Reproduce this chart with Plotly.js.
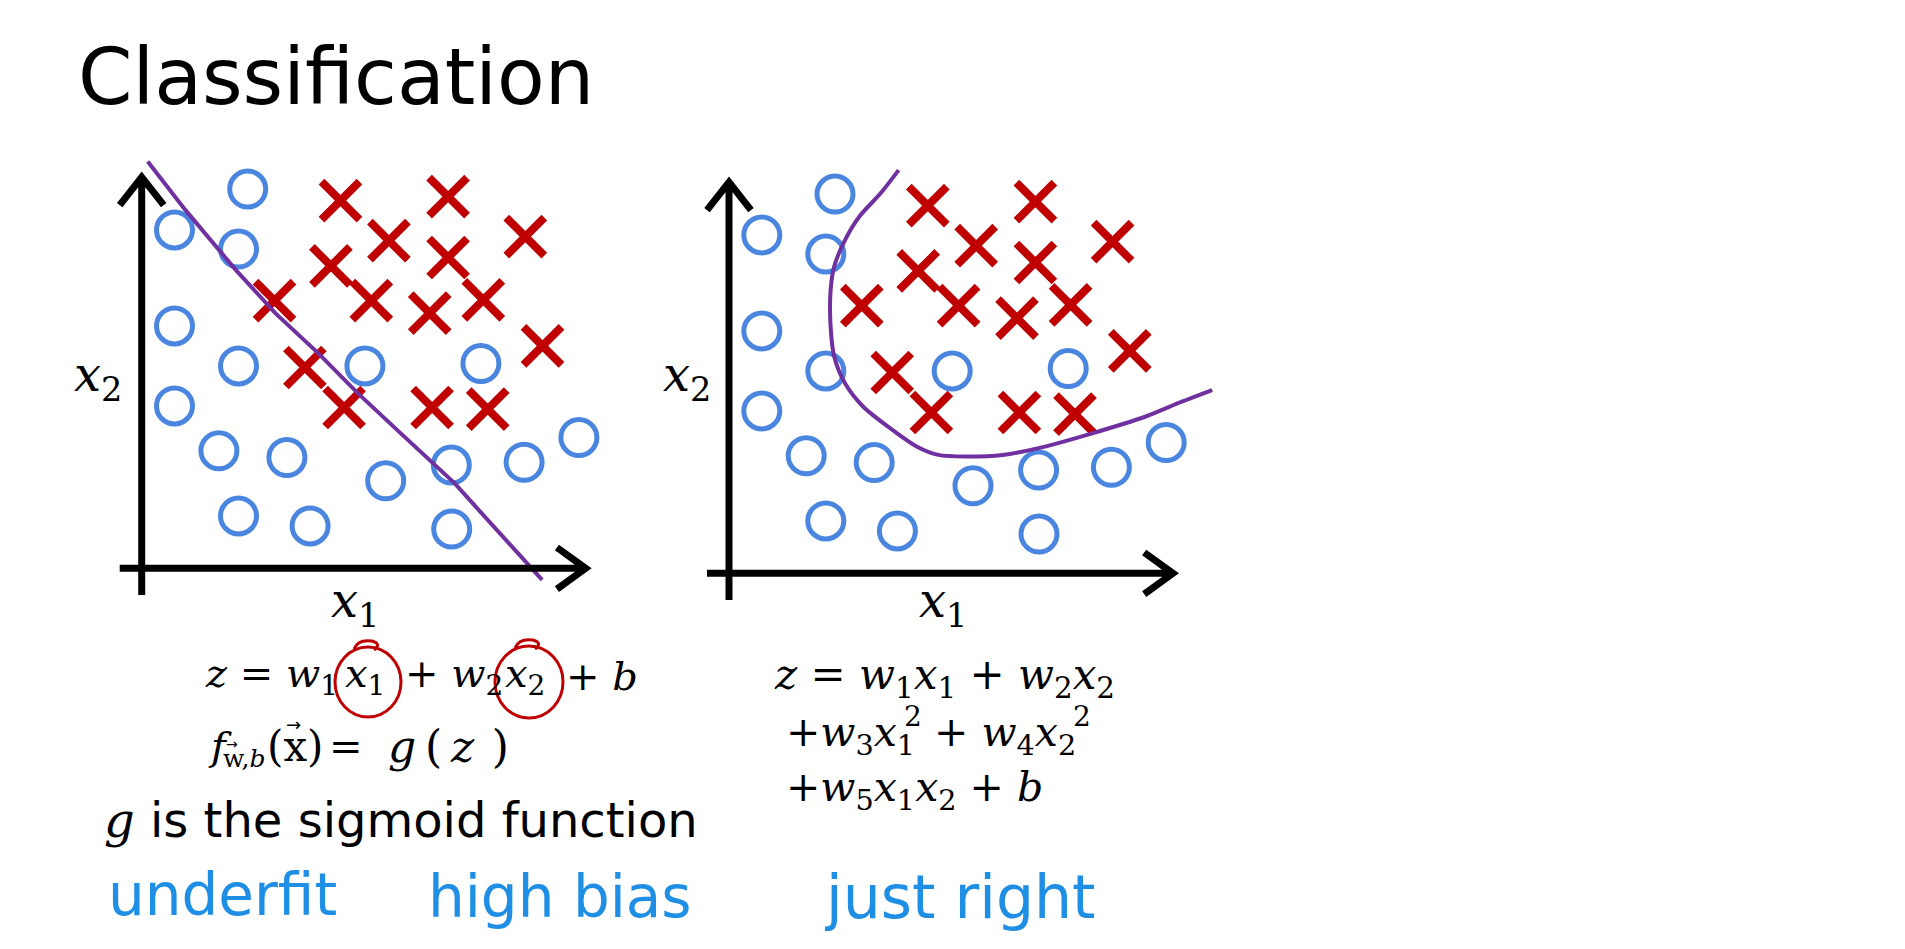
<!DOCTYPE html>
<html>
<head>
<meta charset="utf-8">
<script src="https://cdn.plot.ly/plotly-3.0.1.min.js"></script>
<style>
html,body{margin:0;padding:0;background:#fff;}
#chart{width:1905px;height:949px;}
</style>
</head>
<body>
<div id="chart"></div>
<script>
// ---------- data (same training set in both panels) ----------
const circleX = [2.65, 0.82, 2.42, 0.82, 2.42, 0.82, 5.58, 8.48, 1.93, 3.63, 6.10, 7.74, 9.56, 10.93, 2.42, 4.21, 7.75];
const circleY = [9.48, 8.46, 7.98, 6.06, 5.06, 4.06, 5.06, 5.12, 2.94, 2.77, 2.19, 2.58, 2.65, 3.27, 1.31, 1.06, 0.98];
const crossX  = [4.97, 7.66, 6.18, 7.66, 9.59, 4.73, 3.32, 5.74, 7.20, 8.54, 10.02, 4.08, 5.06, 7.26, 8.65];
const crossY  = [9.19, 9.29, 8.19, 7.77, 8.29, 7.56, 6.69, 6.69, 6.38, 6.71, 5.56, 5.02, 4.02, 4.02, 3.98];

// decision boundary: linear (underfit)
const lineX = [0.15, 1.09, 2.35, 3.34, 4.41, 5.40, 6.47, 7.19, 7.82, 8.35, 9.25, 10.01];
const lineY = [10.17, 8.96, 7.46, 6.38, 5.38, 4.38, 3.38, 2.71, 2.13, 1.54, 0.54, -0.29];
// decision boundary: quadratic (just right)
const curveX = [4.24, 3.79, 3.26, 2.90, 2.63, 2.54, 2.54, 2.63, 2.90, 3.35, 3.97, 4.69, 5.23, 5.94, 6.84, 7.74, 9.08, 10.42, 11.32, 12.08];
const curveY = [10.08, 9.50, 8.92, 8.33, 7.67, 7.08, 6.17, 5.42, 4.75, 4.17, 3.67, 3.17, 2.96, 2.92, 2.96, 3.13, 3.50, 3.92, 4.29, 4.58];

// ---------- styles ----------
const BLUE = '#4a86e0', RED = '#c00000', PURPLE = '#7030a0', HAND = '#1e8fe4';
const W = 1905, H = 949;
const px = v => v / W, py = v => 1 - v / H;

function panelTraces(xa, ya, bx, by, smooth) {
  return [
    {x: circleX, y: circleY, xaxis: xa, yaxis: ya, type: 'scatter', mode: 'markers',
     marker: {symbol: 'circle-open', size: 36, color: BLUE, line: {width: 5, color: BLUE}},
     hoverinfo: 'skip', cliponaxis: false},
    {x: crossX, y: crossY, xaxis: xa, yaxis: ya, type: 'scatter', mode: 'markers',
     marker: {symbol: 'x-thin-open', size: 38, color: RED, line: {width: 8, color: RED}},
     hoverinfo: 'skip', cliponaxis: false},
    {x: bx, y: by, xaxis: xa, yaxis: ya, type: 'scatter', mode: 'lines',
     line: {color: PURPLE, width: 4, shape: smooth ? 'spline' : 'linear', smoothing: 0.8},
     hoverinfo: 'skip', cliponaxis: false}
  ];
}

const data = [].concat(
  panelTraces('x', 'y', lineX, lineY, false),
  panelTraces('x2', 'y2', curveX, curveY, true)
);

// hand-drawn axes with open arrowheads
const AX_X = [-0.55, 11.1], AX_Y = [-0.67, 9.78];
function axisShapes(xr, yr) {
  const l = {color: '#000', width: 7};
  return [
    {type: 'path', xref: xr, yref: yr, line: l,
     path: `M${AX_X[0]},0 L${AX_X[1]},0 M${AX_X[1]-0.72},0.52 L${AX_X[1]},0 L${AX_X[1]-0.72},-0.52`},
    {type: 'path', xref: xr, yref: yr, line: l,
     path: `M0,${AX_Y[0]} L0,${AX_Y[1]} M-0.55,${AX_Y[1]-0.7} L0,${AX_Y[1]} L0.55,${AX_Y[1]-0.7}`}
  ];
}

const shapes = [].concat(axisShapes('x', 'y'), axisShapes('x2', 'y2'));
// red hand circles around x1 and x2 in the equation
[[368, 682, 33, 35], [529, 682, 34, 36]].forEach(([cx, cy, rx, ry]) => {
  shapes.push({type: 'circle', xref: 'paper', yref: 'paper',
    x0: px(cx - rx), x1: px(cx + rx), y0: py(cy + ry), y1: py(cy - ry),
    line: {color: RED, width: 3}});
  shapes.push({type: 'path', xref: 'paper', yref: 'paper', line: {color: RED, width: 3},
    path: `M${px(cx-14)},${py(cy-ry+2)} Q${px(cx-10)},${py(cy-ry-8)} ${px(cx+4)},${py(cy-ry-6)} Q${px(cx+14)},${py(cy-ry-3)} ${px(cx+6)},${py(cy-ry+3)}`});
});

const MATH = 'DejaVu Serif';
function ann(text, x, y, size, family, color, xanchor) {
  return {text, x: px(x), y: py(y), xref: 'paper', yref: 'paper', showarrow: false,
    xanchor: xanchor || 'left', yanchor: 'middle',
    font: {size, family, color: color || '#000'}};
}
const i = s => `<i>${s}</i>`;
const EQ = 40;
const annotations = [
  ann('Classification', 76, 77, 78, 'DejaVu Sans'),
  ann(i('x') + '<sub>2</sub>', 98, 377, 48, MATH, '#000', 'center'),
  ann(i('x') + '<sub>1</sub>', 355, 603, 48, MATH, '#000', 'center'),
  ann(i('x') + '<sub>2</sub>', 687, 377, 48, MATH, '#000', 'center'),
  ann(i('x') + '<sub>1</sub>', 943, 603, 48, MATH, '#000', 'center'),
  // z = w1 x1 + w2 x2 + b  (pieces placed to sit inside the hand-drawn circles)
  ann(`${i('z')} = ${i('w')}<sub>1</sub>`, 203, 676, EQ, MATH),
  ann(`${i('x')}<sub>1</sub>`, 343, 676, EQ, MATH),
  ann(`+ ${i('w')}<sub>2</sub>`, 403, 676, EQ, MATH),
  ann(`${i('x')}<sub>2</sub>`, 503, 676, EQ, MATH),
  ann(`+ ${i('b')}`, 564, 676, EQ, MATH),
  // f_{w,b}(x) = g(z)
  ann(i('f'), 206, 746, EQ, MATH),
  ann(`w,${i('b')}`, 221, 758, 25, MATH),
  ann('\u2192', 232, 744, 14, 'DejaVu Sans', '#000', 'center'),
  ann('(x)', 265, 746, 42, MATH),
  ann('\u2192', 293, 724, 18, 'DejaVu Sans', '#000', 'center'),
  ann('=', 327, 746, EQ, MATH),
  ann(`${i('g')}\u2009(\u2009${i('z')}\u2009\u2009)`, 386, 746, 44, MATH),
  ann(`<span style="font-family:'${MATH}'">${i('g')}</span> is the sigmoid function`, 102, 820, 48, 'DejaVu Sans'),
  // right-hand model
  ann(`${i('z')} = ${i('w')}<sub>1</sub>${i('x')}<sub>1</sub> + ${i('w')}<sub>2</sub>${i('x')}<sub>2</sub>`, 772, 677, 42, MATH),
  ann(`+${i('w')}<sub>3</sub>${i('x')}<sub>1</sub>`, 784, 735, 41, MATH),
  ann('2', 913, 716, 28, MATH, '#000', 'center'),
  ann(`+ ${i('w')}<sub>4</sub>${i('x')}<sub>2</sub>`, 932, 735, 41, MATH),
  ann('2', 1082, 716, 28, MATH, '#000', 'center'),
  ann(`+${i('w')}<sub>5</sub>${i('x')}<sub>1</sub>${i('x')}<sub>2</sub> + ${i('b')}`, 784, 790, 41, MATH),
  ann('underfit', 106, 895, 58, 'DejaVu Sans', HAND),
  ann('high bias', 426, 897, 58, 'DejaVu Sans', HAND),
  ann('just right', 822, 897, 60, 'DejaVu Sans', HAND)
];

const hidden = {visible: false, showgrid: false, zeroline: false, fixedrange: true};
const layout = {
  width: W, height: H, margin: {l: 0, r: 0, t: 0, b: 0},
  paper_bgcolor: '#fff', plot_bgcolor: 'rgba(0,0,0,0)', showlegend: false,
  xaxis:  Object.assign({}, hidden, {domain: [0.04289, 0.33685], range: [-1.5, 12.5], anchor: 'y'}),
  yaxis:  Object.assign({}, hidden, {domain: [0.33793, 0.86481], range: [-1.5, 11], anchor: 'x'}),
  xaxis2: Object.assign({}, hidden, {domain: [0.35118, 0.64514], range: [-1.5, 12.5], anchor: 'y2'}),
  yaxis2: Object.assign({}, hidden, {domain: [0.33267, 0.85954], range: [-1.5, 11], anchor: 'x2'}),
  shapes, annotations
};
Plotly.newPlot('chart', data, layout, {displayModeBar: false, staticPlot: true});
</script>
</body>
</html>
